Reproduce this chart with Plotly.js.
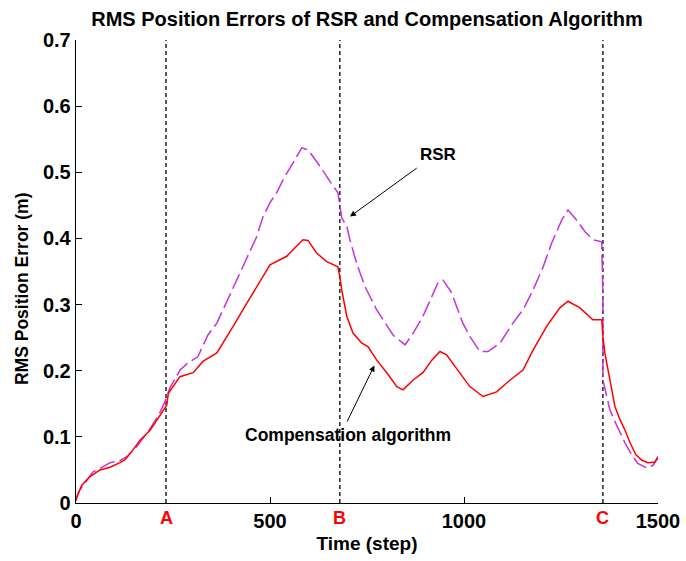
<!DOCTYPE html>
<html>
<head>
<meta charset="utf-8">
<script src="https://cdn.plot.ly/plotly-3.0.1.min.js"></script>
<style>html,body{margin:0;padding:0;background:#fff;}#chart{width:686px;height:561px;}</style>
</head>
<body>
<div id="chart"></div>
<script>
// Compensation algorithm (red, solid)
const compSteps = [0,2,15,36,62,88,113,126,144,165,191,216,234,238,268,302,327,363,379,405,430,456,482,500,543,569,585,598,620,646,675,680,685,698,714,736,753,775,801,827,843,869,894,917,938,955,990,1015,1049,1084,1119,1152,1178,1213,1247,1268,1299,1332,1355,1358,1363,1371,1381,1389,1402,1415,1428,1443,1458,1474,1492,1500];
const compError = [0.005,0.010,0.027,0.040,0.050,0.054,0.061,0.065,0.078,0.095,0.110,0.131,0.148,0.166,0.191,0.197,0.214,0.227,0.242,0.267,0.292,0.318,0.342,0.360,0.373,0.388,0.398,0.397,0.378,0.365,0.357,0.342,0.322,0.282,0.257,0.242,0.236,0.216,0.197,0.176,0.171,0.186,0.197,0.216,0.229,0.224,0.197,0.176,0.161,0.168,0.186,0.201,0.231,0.267,0.295,0.305,0.295,0.277,0.277,0.252,0.227,0.201,0.171,0.146,0.126,0.110,0.091,0.073,0.065,0.061,0.062,0.070];

// RSR (magenta, dashed)
const rsrSteps = [0,2,10,44,70,88,113,131,156,186,211,224,234,242,268,289,314,340,363,379,405,427,443,466,482,500,517,534,559,582,598,629,655,675,680,685,698,706,723,745,775,796,817,848,869,894,917,933,946,968,981,997,1015,1041,1062,1093,1126,1152,1178,1204,1226,1252,1268,1290,1312,1332,1355,1358,1358,1368,1376,1389,1402,1415,1432,1448,1471,1487,1500];
const rsrError = [0.003,0.008,0.020,0.047,0.055,0.061,0.064,0.070,0.085,0.108,0.131,0.146,0.161,0.174,0.201,0.212,0.221,0.254,0.272,0.292,0.325,0.352,0.373,0.403,0.433,0.454,0.469,0.489,0.514,0.537,0.534,0.509,0.486,0.469,0.451,0.431,0.418,0.398,0.363,0.327,0.292,0.272,0.254,0.239,0.257,0.282,0.312,0.333,0.337,0.318,0.297,0.272,0.252,0.229,0.229,0.242,0.272,0.292,0.322,0.357,0.393,0.428,0.443,0.428,0.410,0.398,0.395,0.307,0.186,0.163,0.141,0.123,0.106,0.091,0.073,0.060,0.053,0.057,0.068];

// Event markers
const eventSteps = [232, 680, 1358];
const eventLabels = ['A', 'B', 'C'];

const xTicks = [0, 500, 1000, 1500];
const yTicks = [0, 0.1, 0.2, 0.3, 0.4, 0.5, 0.6, 0.7];
const yTickText = ['0', '0.1', '0.2', '0.3', '0.4', '0.5', '0.6', '0.7'];

const FONT = 'Liberation Sans, Arial, sans-serif';

const traces = [];
eventSteps.forEach(s => {
  traces.push({x:[s,s], y:[0,0.7], mode:'lines', line:{color:'#000', width:1.3, dash:'4px,3px'}, hoverinfo:'skip', showlegend:false});
});
traces.push({x: rsrSteps, y: rsrError, mode:'lines', name:'RSR', line:{color:'#c532e0', width:1.5, dash:'16px,5px'}, showlegend:false});
traces.push({x: compSteps, y: compError, mode:'lines', name:'Compensation algorithm', line:{color:'#ff0000', width:1.5}, showlegend:false});

const annotations = [];
eventSteps.forEach((s,i) => {
  annotations.push({x:s, xref:'x', y:-0.033, yref:'paper', text:eventLabels[i], showarrow:false, xanchor:'center', yanchor:'middle', font:{family:FONT, size:18, color:'#ff0000', weight:'bold'}});
});
annotations.push({x:933, y:0.527, xref:'x', yref:'y', text:'RSR', showarrow:false, font:{family:FONT, size:17, color:'#000', weight:'bold'}});
annotations.push({x:706, y:0.433, ax:882, ay:0.508, xref:'x', yref:'y', axref:'x', ayref:'y', text:'', showarrow:true, arrowhead:2, arrowsize:1.2, arrowwidth:1, arrowcolor:'#000'});
annotations.push({x:701, y:0.103, xref:'x', yref:'y', text:'Compensation algorithm', showarrow:false, font:{family:FONT, size:17.5, color:'#000', weight:'bold'}});
annotations.push({x:769, y:0.208, ax:697, ay:0.121, xref:'x', yref:'y', axref:'x', ayref:'y', text:'', showarrow:true, arrowhead:2, arrowsize:1.2, arrowwidth:1, arrowcolor:'#000'});
// y-axis title placed like the original (slightly below the axis centre)
annotations.push({x:-0.093, xref:'paper', y:0.464, yref:'paper', text:'RMS Position Error (m)', textangle:-90, showarrow:false, xanchor:'center', yanchor:'middle', font:{family:FONT, size:17.5, color:'#000', weight:'bold'}});

const layout = {
  width: 686, height: 561,
  paper_bgcolor:'#fff', plot_bgcolor:'#fff',
  margin:{l:76, r:28, t:40, b:58},
  title:{text:'RMS Position Errors of RSR and Compensation Algorithm', x:0.535, xanchor:'center', y:0.966, yanchor:'middle', font:{family:FONT, size:20, color:'#000', weight:'bold'}},
  xaxis:{range:[0,1500], tickvals:xTicks, ticktext:xTicks.map(String), ticks:'inside', ticklen:6, tickcolor:'#000', showline:true, linecolor:'#000', linewidth:1.3, showgrid:false, zeroline:false, mirror:false,
    tickfont:{family:FONT, size:20, color:'#000', weight:'bold'},
    title:{text:'Time (step)', font:{family:FONT, size:19, color:'#000', weight:'bold'}, standoff:5}},
  yaxis:{range:[0,0.7], tickvals:yTicks, ticktext:yTickText, ticks:'inside', ticklen:6, tickcolor:'#000', showline:true, linecolor:'#000', linewidth:1.3, showgrid:false, zeroline:false, mirror:false,
    tickfont:{family:FONT, size:20, color:'#000', weight:'bold'}},
  annotations: annotations,
  showlegend:false
};

Plotly.newPlot('chart', traces, layout, {displayModeBar:false, staticPlot:true});
</script>
</body>
</html>
